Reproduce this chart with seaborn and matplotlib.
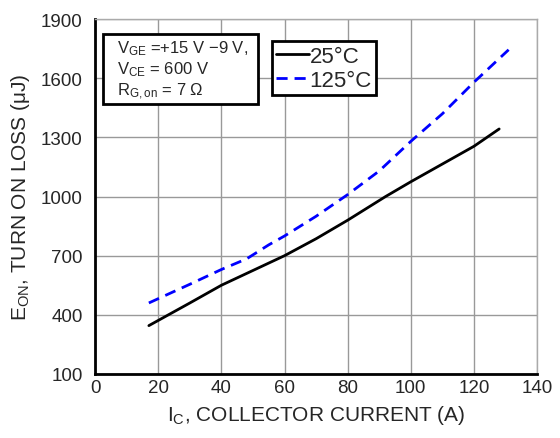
import pandas as pd
import seaborn as sns
import matplotlib.pyplot as plt
from matplotlib.patches import Rectangle

ic_25 = [17, 30, 40, 50, 60, 70, 80, 92, 100, 110, 120, 128]
eon_25 = [345, 460, 550, 625, 700, 786, 880, 1000, 1075, 1165, 1255, 1343]
ic_125 = [17, 30, 40, 48, 55, 60, 70, 80, 90, 100, 110, 120, 131]
eon_125 = [460, 555, 630, 684, 755, 800, 900, 1010, 1130, 1280, 1420, 1580, 1745]

xticks = [0, 20, 40, 60, 80, 100, 120, 140]
yticks = [100, 400, 700, 1000, 1300, 1600, 1900]

df = pd.concat([
    pd.DataFrame({'Ic': ic_25, 'Eon': eon_25, 'T': '25°C'}),
    pd.DataFrame({'Ic': ic_125, 'Eon': eon_125, 'T': '125°C'}),
])

sns.set_style('white')
plt.rcParams['font.family'] = ['Liberation Sans', 'DejaVu Sans']
plt.rcParams['mathtext.default'] = 'regular'

fig = plt.figure(figsize=(5.6, 4.39), dpi=100)
ax = fig.add_axes([0.170, 0.146, 0.789, 0.808])

sns.lineplot(data=df, x='Ic', y='Eon', hue='T', style='T',
             palette={'25°C': 'black', '125°C': '#0000ff'},
             dashes={'25°C': '', '125°C': (4, 2.5)},
             linewidth=2, ax=ax)

ax.set_xlim(0, 140)
ax.set_ylim(100, 1900)
ax.set_xticks(xticks)
ax.set_yticks(yticks)
ax.tick_params(length=0, labelsize=13.5)
ax.tick_params(axis='y', pad=9)
ax.tick_params(axis='x', pad=4)
ax.grid(True, color='#999999', linewidth=1)
for s in ['top', 'right']:
    ax.spines[s].set_color('#aaaaaa')
    ax.spines[s].set_linewidth(1)
for s in ['left', 'bottom']:
    ax.spines[s].set_color('black')
    ax.spines[s].set_linewidth(2)

ax.set_xlabel('I$_C$, COLLECTOR CURRENT (A)', fontsize=15, labelpad=5)
ax.set_ylabel('E$_{ON}$, TURN ON LOSS (μJ)', fontsize=15, labelpad=6)

leg = ax.legend(loc='upper left', bbox_to_anchor=(0.400, 0.938), borderaxespad=0,
                fontsize=16, fancybox=False, framealpha=1, edgecolor='black',
                handlelength=1.45, handletextpad=0.05, borderpad=0.2,
                labelspacing=0.15, title=None)
leg.get_frame().set_linewidth(2)

ax.add_patch(Rectangle((0.018, 0.761), 0.351, 0.197, transform=ax.transAxes,
                       facecolor='white', edgecolor='black', linewidth=2, zorder=4))
ax.text(0.050, 0.945, 'V$_{GE}$ =+15 V \u22129 V,\nV$_{CE}$ = 600 V\nR$_{G,on}$ = 7 \u03a9',
        transform=ax.transAxes, fontsize=12, va='top', ha='left', linespacing=1.15,
        zorder=5)

plt.savefig('out.png', dpi=100)
